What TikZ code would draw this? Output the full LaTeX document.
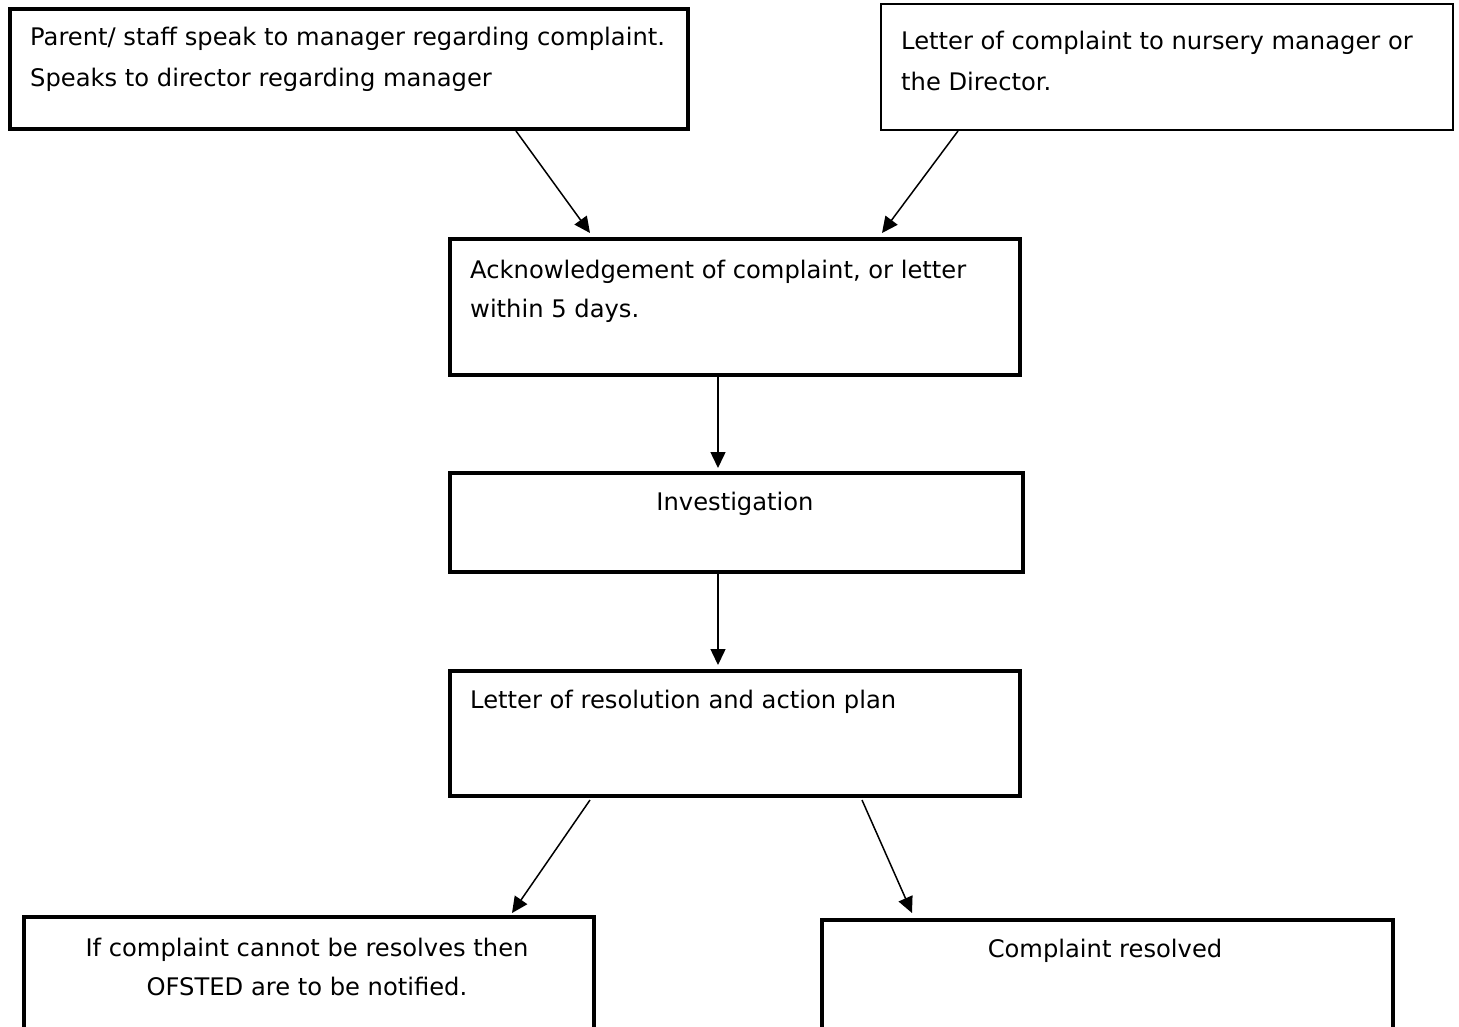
\documentclass[tikz,border=0pt]{standalone}
\usepackage{fontspec}
\setmainfont{DejaVu Sans}
\usetikzlibrary{arrows.meta}
\begin{document}
\begin{tikzpicture}[x=1pt,y=-1pt,
  box/.style={draw=black,line width=3.5pt,rectangle,anchor=north west,inner sep=0pt,fill=white},
  thinbox/.style={box,line width=2.2pt},
  txt/.style={inner sep=0pt,font=\fontsize{24.2}{41}\selectfont},
  lt/.style={txt,anchor=base west},
  ct/.style={txt,anchor=base},
  arr/.style={line width=1.5pt,-{Triangle[length=16pt,width=15pt]}}]
\useasboundingbox (0,0) rectangle (1459,1026);
\clip (0,0) rectangle (1459,1026);
\fill[white] (0,0) rectangle (1459,1026);
% boxes
\node[box,minimum width=678pt,minimum height=120pt] (b1) at (8,7) {};
\node[thinbox,minimum width=572pt,minimum height=126pt] (b2) at (880,3) {};
\node[box,minimum width=570pt,minimum height=136pt] (b3) at (448,237) {};
\node[box,minimum width=573pt,minimum height=99pt] (b4) at (448,471) {};
\node[box,minimum width=570pt,minimum height=125pt] (b5) at (448,669) {};
\node[box,minimum width=570pt,minimum height=160pt] (b6) at (22,915) {};
\node[box,minimum width=571pt,minimum height=160pt] (b7) at (820,918) {};
% texts
\node[lt] (t1a) at (30,45) {Parent/ staff speak to manager regarding complaint.};
\node[lt] (t1b) at (30,86) {Speaks to director regarding manager};
\node[lt] (t2a) at (901,49) {Letter of complaint to nursery manager or};
\node[lt] (t2b) at (901,90) {the Director.};
\node[lt] (t3a) at (470,278) {Acknowledgement of complaint, or letter};
\node[lt] (t3b) at (470,317) {within 5 days.};
\node[ct] (t4) at (735,510) {Investigation};
\node[lt] (t5) at (470,708) {Letter of resolution and action plan};
\node[ct] (t6a) at (307,956) {If complaint cannot be resolves then};
\node[ct] (t6b) at (307,995) {OFSTED are to be notified.};
\node[ct] (t7) at (1105,957) {Complaint resolved};
% connector ends
\coordinate (a1s) at (516,131); \coordinate (a1e) at (590,233);
\coordinate (a2s) at (958,131); \coordinate (a2e) at (882,233);
\coordinate (a3s) at (718,376); \coordinate (a3e) at (718,468);
\coordinate (a4s) at (718,570); \coordinate (a4e) at (718,665);
\coordinate (a5s) at (590,800); \coordinate (a5e) at (512,913);
\coordinate (a6s) at (862,800); \coordinate (a6e) at (912,913);
\draw[arr] (a1s) -- (a1e);
\draw[arr] (a2s) -- (a2e);
\draw[arr] (a3s) -- (a3e);
\draw[arr] (a4s) -- (a4e);
\draw[arr] (a5s) -- (a5e);
\draw[arr] (a6s) -- (a6e);
\end{tikzpicture}
\end{document}
